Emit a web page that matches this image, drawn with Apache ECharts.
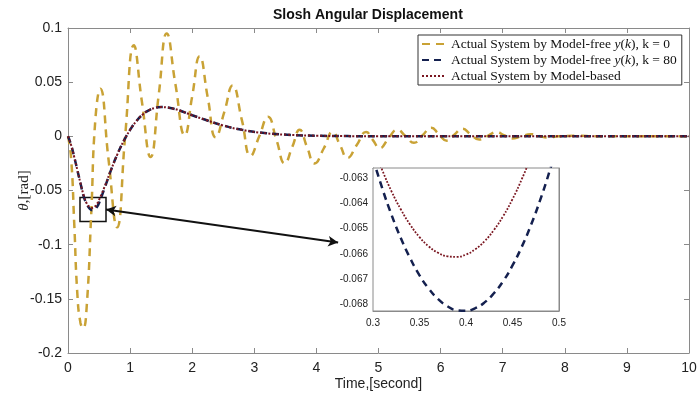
<!DOCTYPE html>
<html><head><meta charset="utf-8">
<script src="https://cdn.jsdelivr.net/npm/echarts@6/dist/echarts.min.js"></script>
<style>html,body{margin:0;padding:0;background:#fff}#c{width:697px;height:396px}</style>
</head><body><div id="c"></div>
<script>
// ---- data ----
const timeMain = [0, 0.05, 0.1, 0.15, 0.2, 0.25, 0.3, 0.35, 0.39, 0.43, 0.47, 0.5, 0.55, 0.6, 0.7, 0.8, 0.9, 1.0, 1.1, 1.2, 1.3, 1.4, 1.5, 1.6, 1.7, 1.8, 2.0, 2.2, 2.5, 2.8, 3.2, 3.6, 4.0, 4.5, 5.0, 6.0, 7.0, 8.0, 9.0, 10.0];
const modelBased = [0, -0.008, -0.019, -0.031, -0.043, -0.054, -0.0617, -0.0653, -0.0661, -0.0650, -0.0621, -0.0587, -0.052, -0.045, -0.030, -0.016, -0.004, 0.006, 0.014, 0.020, 0.024, 0.0262, 0.027, 0.0266, 0.0255, 0.0238, 0.0195, 0.0155, 0.0100, 0.0060, 0.0028, 0.0013, 0.0006, 0.0002, 0.0001, 0, 0, 0, 0, 0];
const modelFreeK80 = [0, -0.008, -0.019, -0.031, -0.043, -0.055, -0.0622, -0.0668, -0.0682, -0.0676, -0.0648, -0.0615, -0.054, -0.046, -0.030, -0.016, -0.004, 0.006, 0.014, 0.020, 0.024, 0.0262, 0.027, 0.0266, 0.0255, 0.0238, 0.0195, 0.0155, 0.0100, 0.0060, 0.0028, 0.0013, 0.0006, 0.0002, 0.0001, 0, 0, 0, 0, 0];
const timeK0 = [0, 0.05, 0.1, 0.15, 0.2, 0.245, 0.3, 0.375, 0.44, 0.52, 0.65, 0.79, 0.92, 1.06, 1.19, 1.33, 1.46, 1.59, 1.73, 1.88, 2.0, 2.12, 2.25, 2.38, 2.52, 2.65, 2.8, 2.94, 3.08, 3.22, 3.36, 3.49, 3.61, 3.73, 3.85, 3.97, 4.12, 4.26, 4.38, 4.5, 4.65, 4.8, 4.91, 5.02, 5.16, 5.3, 5.44, 5.57, 5.71, 5.85, 5.97, 6.1, 6.22, 6.35, 6.48, 6.62, 6.76, 6.9, 7.02, 7.15, 7.3, 7.45, 7.6, 7.72, 7.9, 8.2, 8.5, 9.0, 9.5, 10.0];
const modelFreeK0 = [0, -0.02, -0.08, -0.145, -0.172, -0.177, -0.158, -0.07, 0.015, 0.044, -0.02, -0.084, 0.0, 0.084, 0.032, -0.019, 0.038, 0.095, 0.048, 0.001, 0.037, 0.074, 0.036, -0.001, 0.023, 0.047, 0.015, -0.018, 0.0, 0.018, -0.004, -0.025, -0.01, 0.006, -0.01, -0.025, -0.011, 0.004, -0.008, -0.020, -0.008, 0.004, -0.0035, -0.011, -0.002, 0.006, 0.0, -0.006, 0.001, 0.008, 0.002, -0.004, 0.0015, 0.007, 0.002, -0.003, 0.0005, 0.004, 0.001, -0.002, 0, 0.002, 0, -0.001, 0, 0.0005, 0, 0, 0, 0];
const insetTime = [0.30, 0.31, 0.32, 0.33, 0.34, 0.35, 0.36, 0.37, 0.38, 0.39, 0.40, 0.41, 0.42, 0.43, 0.44, 0.45, 0.46, 0.47, 0.48, 0.49, 0.50];
const insetModelBased = [-0.06175, -0.06269, -0.06353, -0.06424, -0.06484, -0.06533, -0.06570, -0.06595, -0.06609, -0.06611, -0.06602, -0.06581, -0.06549, -0.06505, -0.06450, -0.06383, -0.06304, -0.06214, -0.06110, -0.06000, -0.05880];
const insetK80 = [-0.06223, -0.06341, -0.06446, -0.06538, -0.06617, -0.06684, -0.06737, -0.06778, -0.06806, -0.06822, -0.06824, -0.06814, -0.06791, -0.06755, -0.06707, -0.06645, -0.06571, -0.06484, -0.06384, -0.06271, -0.06146];
const insetYTicks = [-0.068, -0.067, -0.066, -0.065, -0.064, -0.063];
const seriesNames = ['Actual System by Model-free y(k), k = 0', 'Actual System by Model-free y(k), k = 80', 'Actual System by Model-based'];
// zoom box and arrow (data coordinates)
const zoomBox = [[0.193, -0.0565], [0.612, -0.0787]];
const arrowEnds = [[0.612, -0.0676], [4.35, -0.0981]];

const pairs = (xs, ys) => xs.map((x, i) => [x, ys[i]]);

const GOLD = '#C9A235', NAVY = '#14204F', MAROON = '#7A1620', AX = '#8a8a8a', TXT = '#222';
const sans = 'Liberation Sans', serif = 'Liberation Serif';

function mainAxisX(pos, labels, extra) {
  return Object.assign({
    type: 'value', gridIndex: 0, position: pos, min: 0, max: 10, interval: 1,
    axisLine: { show: true, onZero: false, lineStyle: { color: AX, width: 1 } },
    axisTick: { show: true, inside: true, length: 5, lineStyle: { color: AX } },
    axisLabel: { show: labels, fontFamily: sans, fontSize: 14, color: TXT, margin: 8 },
    splitLine: { show: false }
  }, extra || {});
}
function mainAxisY(pos, labels, extra) {
  return Object.assign({
    type: 'value', gridIndex: 0, position: pos, min: -0.2, max: 0.1, interval: 0.05,
    axisLine: { show: true, onZero: false, lineStyle: { color: AX, width: 1 } },
    axisTick: { show: true, inside: true, length: 5, lineStyle: { color: AX } },
    axisLabel: { show: labels, fontFamily: sans, fontSize: 14, color: TXT, margin: 6 },
    splitLine: { show: false }
  }, extra || {});
}
function insetAxisX(pos, labels) {
  return {
    type: 'value', gridIndex: 1, position: pos, min: 0.3, max: 0.5, interval: 0.05,
    axisLine: { show: true, onZero: false, lineStyle: { color: AX, width: 1 } },
    axisTick: { show: true, inside: true, length: 3, lineStyle: { color: AX } },
    axisLabel: { show: labels, fontFamily: sans, fontSize: 10, color: TXT, margin: 7 },
    splitLine: { show: false }
  };
}
function insetAxisY(pos, labels) {
  return {
    type: 'value', gridIndex: 1, position: pos, min: -0.06825, max: -0.0626,
    axisLine: { show: true, onZero: false, lineStyle: { color: AX, width: 1 } },
    axisTick: { show: true, inside: true, length: 3, lineStyle: { color: AX }, customValues: insetYTicks },
    axisLabel: { show: labels, fontFamily: sans, fontSize: 10, color: TXT, margin: 5,
      customValues: insetYTicks, formatter: v => v.toFixed(3) },
    splitLine: { show: false }
  };
}

const chart = echarts.init(document.getElementById('c'), null, { renderer: 'canvas' });
chart.setOption({
  animation: false,
  backgroundColor: '#fff',
  title: {
    text: 'Slosh Angular Displacement', left: 268, top: 3, padding: 5,
    textStyle: { fontFamily: sans, fontSize: 14, fontWeight: 'bold', color: '#111' }
  },
  legend: {
    left: 418, top: 35, orient: 'vertical', padding: [2, 5, 2, 3], itemGap: 2,
    itemWidth: 24, itemHeight: 14, backgroundColor: '#fff', borderColor: '#333', borderWidth: 1, borderRadius: 0,
    itemStyle: { opacity: 0 },
    data: seriesNames,
    formatter: function (name) {
      if (name.indexOf('y(k)') >= 0) {
        const parts = name.split('y(k)');
        return '{n|' + parts[0] + '}{i|y}{n|(}{i|k}{n|)' + parts[1] + '}';
      }
      return '{n|' + name + '}';
    },
    textStyle: {
      fontFamily: serif, fontSize: 13.5, color: '#111',
      rich: { n: { fontFamily: serif, fontSize: 13.5, color: '#111' },
              i: { fontFamily: serif, fontSize: 13.5, fontStyle: 'italic', color: '#111' } }
    }
  },
  grid: [
    { left: 68, top: 28, width: 621, height: 325, containLabel: false, outerBoundsMode: 'none' },
    { left: 373, top: 168, width: 186, height: 143, show: true, backgroundColor: '#fff', borderColor: AX, borderWidth: 1, z: 3, outerBoundsMode: 'none' }
  ],
  xAxis: [
    mainAxisX('bottom', true, {
      name: 'Time,[second]', nameLocation: 'middle', nameGap: 24, nameMoveOverlap: false,
      nameTextStyle: { fontFamily: sans, fontSize: 14, color: TXT }
    }),
    mainAxisX('top', false),
    insetAxisX('bottom', true),
    insetAxisX('top', false)
  ],
  yAxis: [
    mainAxisY('left', true, {
      name: '{i|θ},[rad]', nameLocation: 'middle', nameGap: 36, nameMoveOverlap: false,
      nameTextStyle: { fontFamily: serif, fontSize: 15, color: TXT,
        rich: { i: { fontFamily: serif, fontStyle: 'italic', fontSize: 15, color: TXT } } }
    }),
    mainAxisY('right', false),
    insetAxisY('left', true),
    insetAxisY('right', false)
  ],
  series: [
    {
      name: seriesNames[0], type: 'line', xAxisIndex: 0, yAxisIndex: 0, symbol: 'none', smooth: true,
      data: pairs(timeK0, modelFreeK0), z: 2,
      lineStyle: { color: GOLD, width: 2.5, type: [8, 6], cap: 'butt' }, itemStyle: { color: GOLD }
    },
    {
      name: seriesNames[1], type: 'line', xAxisIndex: 0, yAxisIndex: 0, symbol: 'none', smooth: true,
      data: pairs(timeMain, modelFreeK80), z: 3,
      lineStyle: { color: NAVY, width: 2.5, type: [7, 5], cap: 'butt' }, itemStyle: { color: NAVY }
    },
    {
      name: seriesNames[2], type: 'line', xAxisIndex: 0, yAxisIndex: 0, symbol: 'none', smooth: true,
      data: pairs(timeMain, modelBased), z: 4,
      lineStyle: { color: MAROON, width: 2, type: [2, 2], cap: 'butt' }, itemStyle: { color: MAROON },
      markArea: {
        silent: true,
        itemStyle: { color: 'rgba(0,0,0,0)', borderColor: '#111', borderWidth: 1.5 },
        data: [[{ coord: zoomBox[0] }, { coord: zoomBox[1] }]]
      },
      markLine: {
        silent: true, symbol: ['arrow', 'arrow'], symbolSize: [8, 10],
        label: { show: false },
        lineStyle: { color: '#111', width: 2, type: 'solid' },
        data: [[{ coord: arrowEnds[0] }, { coord: arrowEnds[1] }]]
      }
    },
    {
      name: 'inset-k80', type: 'line', xAxisIndex: 2, yAxisIndex: 2, symbol: 'none', smooth: true, z: 5,
      data: pairs(insetTime, insetK80),
      lineStyle: { color: NAVY, width: 2.5, type: [7, 5], cap: 'butt' }
    },
    {
      name: 'inset-modelBased', type: 'line', xAxisIndex: 2, yAxisIndex: 2, symbol: 'none', smooth: true, z: 5,
      data: pairs(insetTime, insetModelBased),
      lineStyle: { color: MAROON, width: 1.8, type: [1.8, 1.6], cap: 'butt' }
    }
  ]
});
</script>
</body></html>
